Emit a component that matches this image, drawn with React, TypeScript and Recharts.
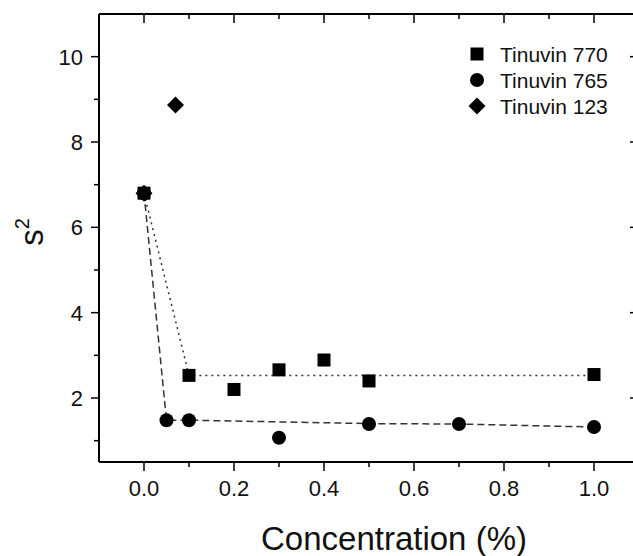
import {ScatterChart, Scatter, XAxis, YAxis} from 'recharts';

const t770X = [0, 0.1, 0.2, 0.3, 0.4, 0.5, 1.0];
const t770Y = [6.8, 2.53, 2.2, 2.66, 2.89, 2.4, 2.55];
const t765X = [0, 0.05, 0.1, 0.3, 0.5, 0.7, 1.0];
const t765Y = [6.8, 1.48, 1.48, 1.07, 1.39, 1.39, 1.32];
const t123X = [0, 0.07];
const t123Y = [6.8, 8.87];

// guide lines drawn through the data
const fit770X = [0, 0.1, 1.0];
const fit770Y = [6.8, 2.53, 2.53];
const fit765X = [0, 0.05, 0.1, 0.5, 0.7, 1.0];
const fit765Y = [6.8, 1.48, 1.48, 1.4, 1.39, 1.32];

const xTicks = [0, 0.1, 0.2, 0.3, 0.4, 0.5, 0.6, 0.7, 0.8, 0.9, 1.0];
const yTicks = [1, 2, 3, 4, 5, 6, 7, 8, 9, 10];

const toPoints = (xs: number[], ys: number[]) => xs.map((x, i) => ({x, y: ys[i]}));

const FONT = '"Liberation Sans", Arial, sans-serif';

const Square = ({cx, cy}: any) => <rect x={cx - 6.5} y={cy - 6.5} width={13} height={13} fill="#000" />;
const Circle = ({cx, cy}: any) => <circle cx={cx} cy={cy} r={7} fill="#000" />;
const Diamond = ({cx, cy}: any) => (
  <polygon points={`${cx},${cy - 8.5} ${cx + 8.5},${cy} ${cx},${cy + 8.5} ${cx - 8.5},${cy}`} fill="#000" />
);
const NoShape = () => <g />;

const isMajorX = (v: number) => Math.round(v * 10) % 2 === 0;
const isMajorY = (v: number) => Math.round(v) % 2 === 0;

const BottomTick = ({x, y, payload}: any) => {
  const major = isMajorX(payload.value);
  return (
    <g>
      <line x1={x} y1={y} x2={x} y2={y + (major ? 9 : 5)} stroke="#000" strokeWidth={1.5} />
      {major && (
        <text x={x} y={y + 34} textAnchor="middle" fontSize={22} fontFamily={FONT} fill="#111">
          {payload.value.toFixed(1)}
        </text>
      )}
    </g>
  );
};

const TopTick = ({x, y, payload}: any) => {
  const major = isMajorX(payload.value);
  return <line x1={x} y1={y} x2={x} y2={y + (major ? 9 : 5)} stroke="#000" strokeWidth={1.5} />;
};

const LeftTick = ({x, y, payload}: any) => {
  const major = isMajorY(payload.value);
  return (
    <g>
      <line x1={x - (major ? 8 : 5)} y1={y} x2={x} y2={y} stroke="#000" strokeWidth={1.5} />
      {major && (
        <text x={x - 16} y={y + 8} textAnchor="end" fontSize={22} fontFamily={FONT} fill="#111">
          {payload.value}
        </text>
      )}
    </g>
  );
};

const RightTick = ({x, y, payload}: any) => {
  const major = isMajorY(payload.value);
  return <line x1={x - (major ? 9 : 5)} y1={y} x2={x} y2={y} stroke="#000" strokeWidth={1.5} />;
};

const legendItems = [
  {name: 'Tinuvin 770', Shape: Square},
  {name: 'Tinuvin 765', Shape: Circle},
  {name: 'Tinuvin 123', Shape: Diamond},
];

const ChartLegend = () => (
  <g>
    {legendItems.map((item, i) => {
      const cy = 54 + i * 26;
      const Shape = item.Shape;
      return (
        <g key={item.name}>
          <Shape cx={477} cy={cy} />
          <text x={500} y={cy + 7.5} fontSize={21} fontFamily={FONT} fill="#111">
            {item.name}
          </text>
        </g>
      );
    })}
  </g>
);

export default function App() {
  return (
    <div style={{position: 'absolute', left: 0, top: 0, width: 633, height: 556, overflow: 'hidden', background: '#fff'}}>
      <ScatterChart width={645} height={556} margin={{top: 0, right: 0, bottom: 0, left: 0}}>
        <XAxis
          xAxisId="b"
          type="number"
          dataKey="x"
          domain={[-0.1, 1.1]}
          ticks={xTicks}
          orientation="bottom"
          height={94}
          tickSize={0}
          tickMargin={0}
          tickLine={false}
          tick={<BottomTick />}
          axisLine={{stroke: '#000', strokeWidth: 2}}
          allowDataOverflow
        />
        <XAxis
          xAxisId="t"
          type="number"
          dataKey="x"
          domain={[-0.1, 1.1]}
          ticks={xTicks}
          orientation="top"
          height={14}
          tickSize={0}
          tickMargin={0}
          tickLine={false}
          tick={<TopTick />}
          axisLine={{stroke: '#000', strokeWidth: 2}}
          allowDataOverflow
        />
        <YAxis
          yAxisId="l"
          type="number"
          dataKey="y"
          domain={[0.5, 11]}
          ticks={yTicks}
          orientation="left"
          width={99}
          tickSize={0}
          tickMargin={0}
          tickLine={false}
          tick={<LeftTick />}
          axisLine={{stroke: '#000', strokeWidth: 2}}
          allowDataOverflow
          label={{
            content: () => (
              <text transform="translate(43, 232) rotate(-90)" textAnchor="middle" fontSize={33} fontFamily={FONT} fill="#111">
                s<tspan dy={-14} fontSize={20}>2</tspan>
              </text>
            ),
          }}
        />
        <YAxis
          yAxisId="r"
          type="number"
          dataKey="y"
          domain={[0.5, 11]}
          ticks={yTicks}
          orientation="right"
          width={6}
          tickSize={0}
          tickMargin={0}
          tickLine={false}
          tick={<RightTick />}
          axisLine={{stroke: '#000', strokeWidth: 2}}
          allowDataOverflow
        />
        <Scatter
          xAxisId="b"
          yAxisId="l"
          data={toPoints(fit770X, fit770Y)}
          line={{stroke: '#333', strokeWidth: 1.5, strokeDasharray: '2 4'}}
          lineType="joint"
          shape={<NoShape />}
          isAnimationActive={false}
        />
        <Scatter
          xAxisId="b"
          yAxisId="l"
          data={toPoints(fit765X, fit765Y)}
          line={{stroke: '#333', strokeWidth: 1.5, strokeDasharray: '7 4'}}
          lineType="joint"
          shape={<NoShape />}
          isAnimationActive={false}
        />
        <Scatter name="Tinuvin 770" xAxisId="b" yAxisId="l" data={toPoints(t770X, t770Y)} shape={<Square />} isAnimationActive={false} />
        <Scatter name="Tinuvin 765" xAxisId="b" yAxisId="l" data={toPoints(t765X, t765Y)} shape={<Circle />} isAnimationActive={false} />
        <Scatter name="Tinuvin 123" xAxisId="b" yAxisId="l" data={toPoints(t123X, t123Y)} shape={<Diamond />} isAnimationActive={false} />
      </ScatterChart>
      <svg style={{position: 'absolute', left: 0, top: 0}} width={633} height={556} pointerEvents="none">
        <ChartLegend />
        <text x={394} y={550} textAnchor="middle" fontSize={33} fontFamily={FONT} fill="#111">
          Concentration (%)
        </text>
      </svg>
    </div>
  );
}
